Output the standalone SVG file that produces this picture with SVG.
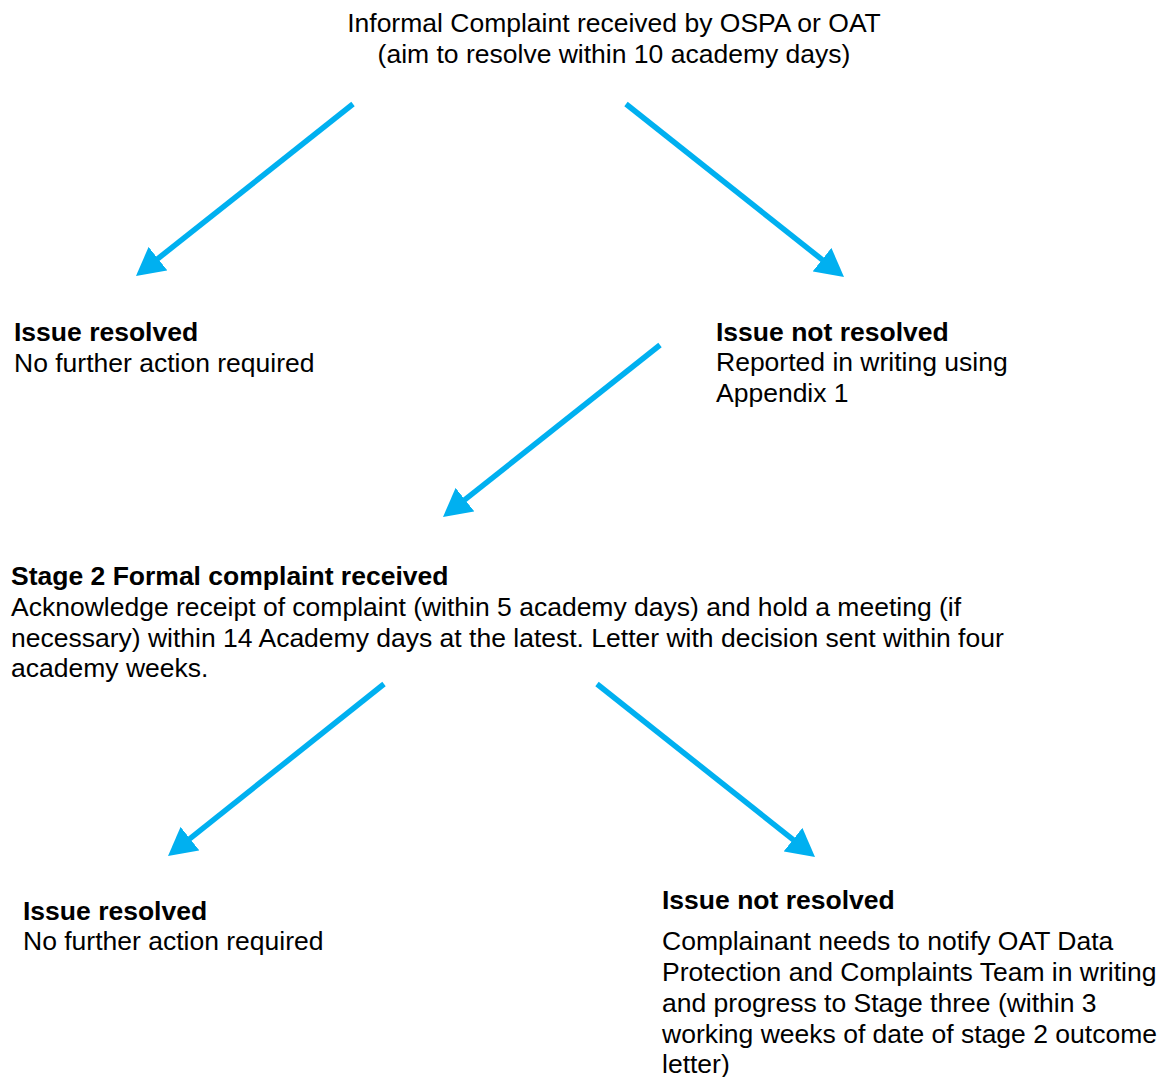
<svg xmlns="http://www.w3.org/2000/svg" width="1167" height="1077" viewBox="0 0 1167 1077">
<style>
text{font-family:"Liberation Sans",Arial,sans-serif;font-size:26.5px;fill:#000}
.b{font-weight:bold}
.c{text-anchor:middle}
.arr{stroke:#00B0F0;stroke-width:5.5;fill:none;marker-end:url(#ah)}
</style>
<defs>
<marker id="ah" viewBox="0 0 28 30" refX="4" refY="15" markerWidth="28" markerHeight="30" markerUnits="userSpaceOnUse" orient="auto">
<path d="M0,0 L28,15 L0,30 z" fill="#00B0F0"/>
</marker>
</defs>
<rect width="1167" height="1077" fill="#fff"/>
<g id="n-informal">
<text class="c" x="614" y="32">Informal Complaint received by OSPA or OAT</text>
<text class="c" x="614" y="63">(aim to resolve within 10 academy days)</text>
</g>
<g id="n-resolved1">
<text class="b" x="14" y="341">Issue resolved</text>
<text x="14" y="372">No further action required</text>
</g>
<g id="n-notresolved1">
<text class="b" x="716" y="341">Issue not resolved</text>
<text x="716" y="371">Reported in writing using</text>
<text x="716" y="402">Appendix 1</text>
</g>
<g id="n-stage2">
<text class="b" x="11" y="585">Stage 2 Formal complaint received</text>
<text x="11" y="616">Acknowledge receipt of complaint (within 5 academy days) and hold a meeting (if</text>
<text x="11" y="647">necessary) within 14 Academy days at the latest. Letter with decision sent within four</text>
<text x="11" y="677">academy weeks.</text>
</g>
<g id="n-resolved2">
<text class="b" x="23" y="920">Issue resolved</text>
<text x="23" y="950">No further action required</text>
</g>
<g id="n-notresolved2">
<text class="b" x="662" y="909">Issue not resolved</text>
<text x="662" y="950">Complainant needs to notify OAT Data</text>
<text x="662" y="981">Protection and Complaints Team in writing</text>
<text x="662" y="1012">and progress to Stage three (within 3</text>
<text x="662" y="1043">working weeks of date of stage 2 outcome</text>
<text x="662" y="1073">letter)</text>
</g>
<g id="connectors">
<line class="arr" x1="353" y1="104" x2="154.8" y2="261.1"/>
<line class="arr" x1="626" y1="104" x2="825.2" y2="262.1"/>
<line class="arr" x1="660" y1="345" x2="461.8" y2="502.1"/>
<line class="arr" x1="384" y1="684" x2="186.8" y2="841.1"/>
<line class="arr" x1="597" y1="684" x2="796.2" y2="842.1"/>
</g>
</svg>
